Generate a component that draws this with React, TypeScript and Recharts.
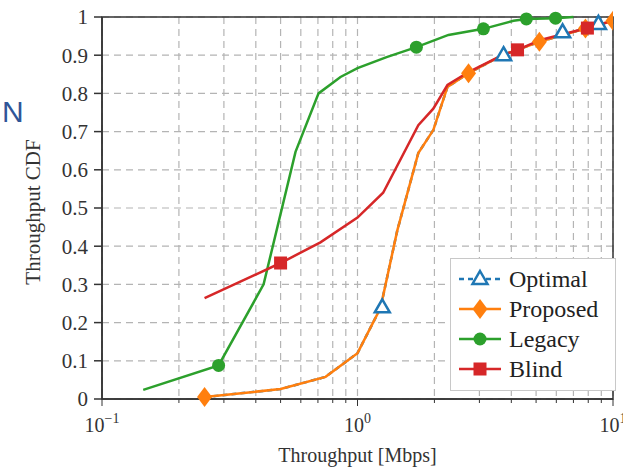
import React from 'react';
import {
  ComposedChart,
  Line,
  Scatter,
  XAxis,
  YAxis,
  CartesianGrid,
  ReferenceArea,
  Legend,
  Label,
} from 'recharts';

// throughput in Mbps (x) and CDF (y)
const optimalX = [0.252, 0.5, 0.75, 1.0, 1.23, 1.43, 1.73, 1.98, 2.25, 2.72, 3.69, 5.15, 7.8, 10];
const optimalY = [0.005, 0.026, 0.058, 0.12, 0.238, 0.44, 0.644, 0.704, 0.817, 0.853, 0.9, 0.935, 0.97, 0.99];
const optimalMarkX = [1.25, 3.73, 6.35, 8.77];
const optimalMarkY = [0.24, 0.9, 0.96, 0.982];

const proposedX = [0.252, 0.5, 0.75, 1.0, 1.23, 1.43, 1.73, 1.98, 2.25, 2.72, 3.69, 5.15, 7.8, 10];
const proposedY = [0.005, 0.026, 0.058, 0.12, 0.238, 0.44, 0.644, 0.704, 0.817, 0.853, 0.9, 0.935, 0.97, 0.99];
const proposedMarkX = [0.252, 2.72, 5.15, 7.8, 10];
const proposedMarkY = [0.005, 0.853, 0.935, 0.97, 0.99];

const legacyX = [0.145, 0.286, 0.429, 0.572, 0.704, 0.858, 1.0, 1.3, 1.7, 2.27, 3.11, 4.08, 4.58, 5.96, 7.0];
const legacyY = [0.024, 0.088, 0.3, 0.647, 0.8, 0.843, 0.866, 0.895, 0.921, 0.953, 0.969, 0.99, 0.995, 0.997, 1.0];
const legacyMarkX = [0.286, 1.7, 3.11, 4.58, 5.96];
const legacyMarkY = [0.088, 0.921, 0.969, 0.995, 0.997];

const blindX = [0.252, 0.5, 0.716, 1.0, 1.26, 1.73, 1.98, 2.25, 2.72, 3.69, 4.23, 5.2, 7.94, 10];
const blindY = [0.264, 0.356, 0.41, 0.475, 0.54, 0.717, 0.76, 0.822, 0.856, 0.9, 0.914, 0.94, 0.971, 0.99];
const blindMarkX = [0.5, 4.23, 7.94];
const blindMarkY = [0.356, 0.914, 0.971];

const xTicks = [0.1, 0.2, 0.3, 0.4, 0.5, 0.6, 0.7, 0.8, 0.9, 1, 2, 3, 4, 5, 6, 7, 8, 9, 10];
const yTicks = [0, 0.1, 0.2, 0.3, 0.4, 0.5, 0.6, 0.7, 0.8, 0.9, 1];

const zip = (xs: number[], ys: number[]) => xs.map((x, i) => ({ x, y: ys[i] }));

const BLUE = '#1f77b4';
const ORANGE = '#ff7f0e';
const GREEN = '#2ca02c';
const RED = '#d62728';
const TEXT = '#333';
const FONT = '"Liberation Serif", "DejaVu Serif", serif';

const Triangle = ({ cx, cy }: any) => (
  <path
    d={`M${cx},${cy - 8} L${cx + 7.5},${cy + 5} L${cx - 7.5},${cy + 5} Z`}
    fill="#fff"
    stroke={BLUE}
    strokeWidth={2.5}
  />
);
const Diamond = ({ cx, cy }: any) => (
  <path d={`M${cx},${cy - 10} L${cx + 7.5},${cy} L${cx},${cy + 10} L${cx - 7.5},${cy} Z`} fill={ORANGE} />
);
const Dot = ({ cx, cy }: any) => <circle cx={cx} cy={cy} r={6.5} fill={GREEN} />;
const Square = ({ cx, cy }: any) => <rect x={cx - 6.5} y={cy - 6.5} width={13} height={13} fill={RED} />;

const series = [
  { name: 'Optimal', color: BLUE, dash: '5 4', Mark: Triangle },
  { name: 'Proposed', color: ORANGE, dash: undefined, Mark: Diamond },
  { name: 'Legacy', color: GREEN, dash: undefined, Mark: Dot },
  { name: 'Blind', color: RED, dash: undefined, Mark: Square },
];

const LogTick = (props: any) => {
  const { x, y, payload } = props;
  const v = payload.value;
  const exp = Math.round(Math.log10(v));
  const major = Math.abs(v - Math.pow(10, exp)) < 1e-9;
  return (
    <g>
      <line x1={x} x2={x} y1={y} y2={y + (major ? 7 : 4)} stroke={TEXT} strokeWidth={1} />
      {major && (
        <text x={x} y={y + 33} textAnchor="middle" fontSize={20} fill={TEXT} fontFamily={FONT}>
          10
          <tspan dy={-9} fontSize={14}>
            {exp < 0 ? '\u2212' + -exp : String(exp)}
          </tspan>
        </text>
      )}
    </g>
  );
};

const renderLegend = () => (
  <div
    style={{
      width: 166,
      height: 133,
      border: '1.5px solid #c8c8c8',
      background: '#fff',
      boxSizing: 'border-box',
      paddingTop: 5,
    }}
  >
    {series.map((s) => (
      <div key={s.name} style={{ display: 'flex', alignItems: 'center', height: 30 }}>
        <svg width={58} height={30} style={{ flex: 'none' }}>
          <line x1={8} x2={50} y1={15} y2={15} stroke={s.color} strokeWidth={2.5} strokeDasharray={s.dash} />
          <s.Mark cx={29} cy={15} />
        </svg>
        <span style={{ fontFamily: FONT, fontSize: 24, color: '#222', lineHeight: '30px' }}>{s.name}</span>
      </div>
    ))}
  </div>
);

export default function App() {
  const lines = [
    zip(optimalX, optimalY),
    zip(proposedX, proposedY),
    zip(legacyX, legacyY),
    zip(blindX, blindY),
  ];
  const marks = [
    zip(optimalMarkX, optimalMarkY),
    zip(proposedMarkX, proposedMarkY),
    zip(legacyMarkX, legacyMarkY),
    zip(blindMarkX, blindMarkY),
  ];

  return (
    <div style={{ position: 'absolute', left: 0, top: 0, width: 623, height: 469, background: '#fff' }}>
      <svg width={40} height={140} style={{ position: 'absolute', left: 0, top: 0 }}>
        <text x={2} y={122} fontSize={30} fill="#2f5597" fontFamily='"Liberation Sans", sans-serif'>
          N
        </text>
      </svg>
      <ComposedChart width={623} height={469} margin={{ top: 17, right: 10, left: 0, bottom: 0 }}>
        <CartesianGrid stroke="#b4b4b4" strokeDasharray="7 5" strokeWidth={1.2} />
        <XAxis
          dataKey="x"
          type="number"
          scale="log"
          domain={[0.1, 10]}
          allowDataOverflow
          ticks={xTicks}
          interval={0}
          tick={<LogTick />}
          tickLine={false}
          tickSize={0}
          tickMargin={0}
          height={70}
          stroke={TEXT}
          strokeWidth={1.5}
        >
          <Label
            value="Throughput [Mbps]"
            position="insideBottom"
            offset={7}
            fontSize={20}
            fill={TEXT}
            fontFamily={FONT}
          />
        </XAxis>
        <YAxis
          type="number"
          domain={[0, 1]}
          ticks={yTicks}
          interval={0}
          width={102}
          tickSize={8}
          tickMargin={6}
          tickFormatter={(v: number) => (v === 0 || v === 1 ? String(v) : v.toFixed(1))}
          tick={{ fontSize: 21, fill: TEXT, fontFamily: FONT }}
          stroke={TEXT}
          strokeWidth={1.5}
        >
          <Label
            content={() => (
              <text
                x={33}
                y={212}
                transform="rotate(-90 33 212)"
                textAnchor="middle"
                dominantBaseline="central"
                fontSize={21}
                fill={TEXT}
                fontFamily={FONT}
              >
                Throughput CDF
              </text>
            )}
          />
        </YAxis>
        <ReferenceArea x1={0.1} x2={10} y1={0} y2={1} fill="none" stroke={TEXT} strokeWidth={1.5} ifOverflow="visible" />
        {series.map((s, i) => (
          <Line
            key={s.name}
            name={s.name}
            data={lines[i]}
            dataKey="y"
            type="linear"
            stroke={s.color}
            strokeWidth={2.5}
            strokeDasharray={s.dash}
            dot={false}
            activeDot={false}
            legendType="none"
            isAnimationActive={false}
          />
        ))}
        {series.map((s, i) => (
          <Scatter
            key={s.name + '-m'}
            name={s.name}
            data={marks[i]}
            dataKey="y"
            shape={(p: any) => <s.Mark cx={p.cx} cy={p.cy} />}
            legendType="none"
            isAnimationActive={false}
          />
        ))}
        <Legend
          content={renderLegend}
          layout="vertical"
          align="center"
          verticalAlign="middle"
          wrapperStyle={{ left: 450, top: 258, width: 166, height: 133 }}
        />
      </ComposedChart>
    </div>
  );
}
